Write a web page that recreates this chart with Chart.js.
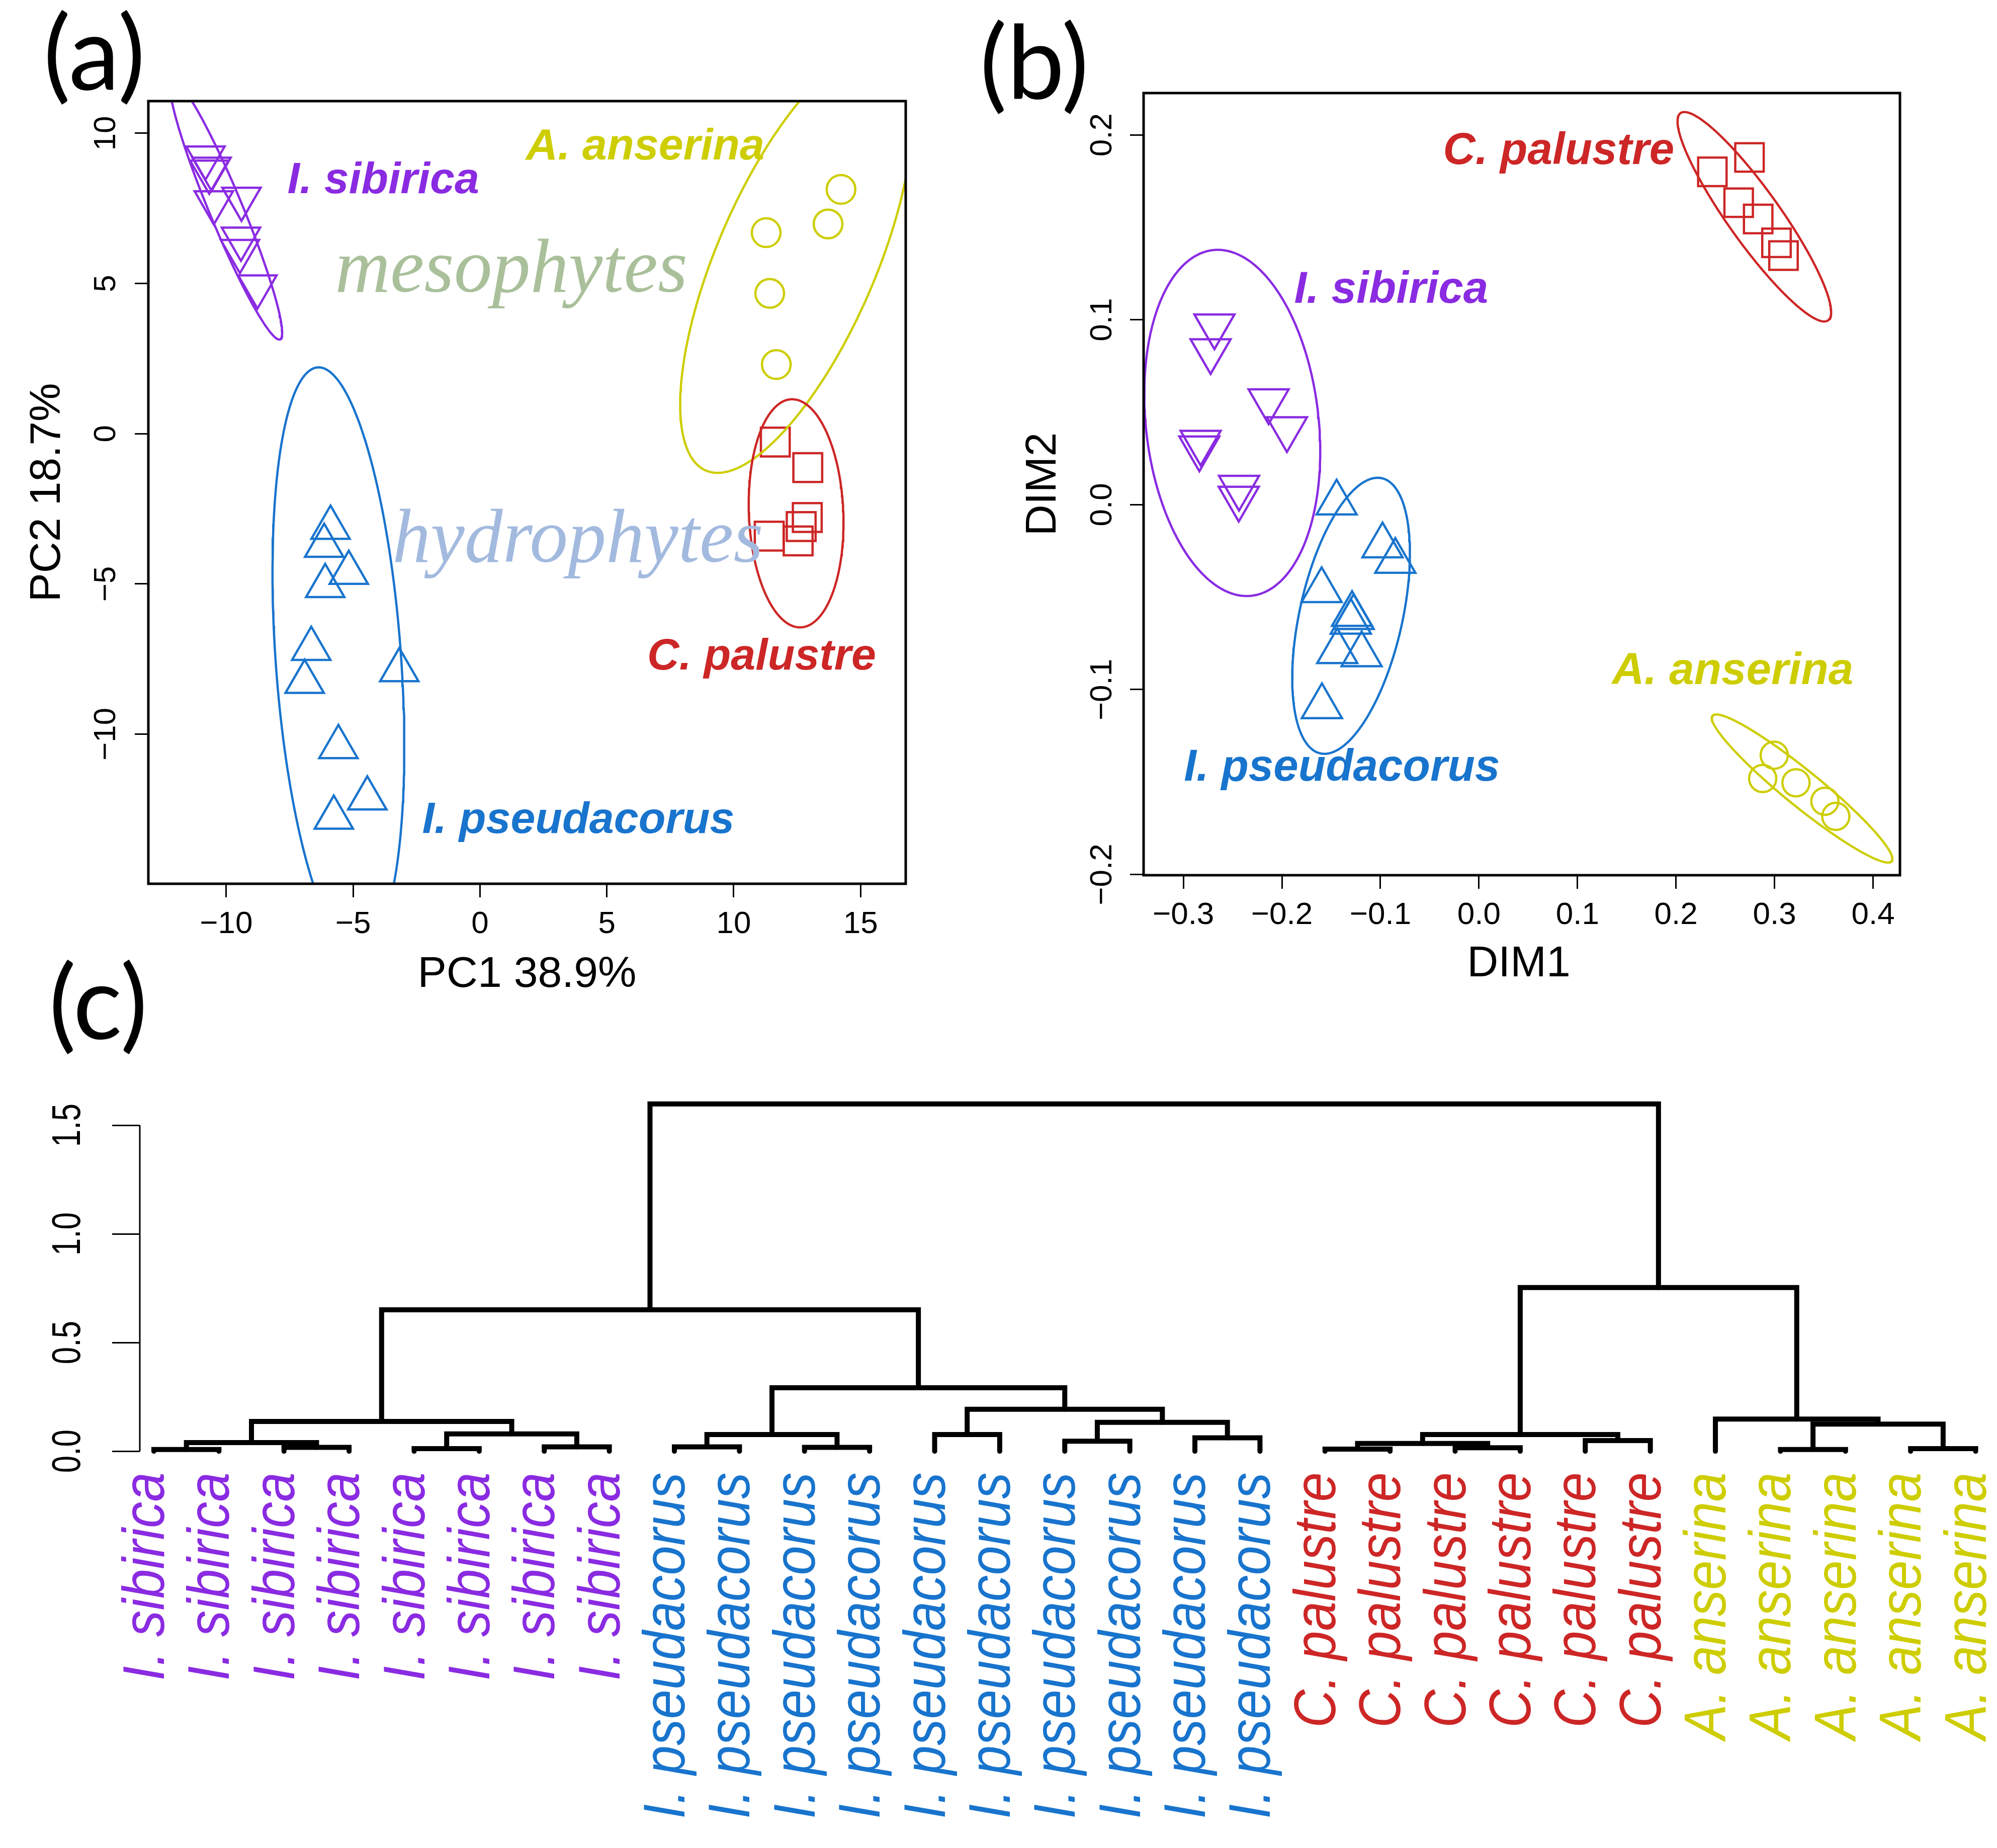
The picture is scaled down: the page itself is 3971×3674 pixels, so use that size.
<!DOCTYPE html>
<html>
<head>
<meta charset="utf-8">
<script src="https://cdn.jsdelivr.net/npm/chart.js@4.4.1/dist/chart.umd.min.js"></script>
<style>
html,body{margin:0;padding:0;background:#ffffff;}
body{width:3971px;height:3674px;position:relative;overflow:hidden;}
canvas{position:absolute;}
</style>
</head>
<body>
<canvas id="ca" width="1950" height="1990" style="left:0px;top:0px;width:1950px;height:1990px"></canvas>
<canvas id="cb" width="2021" height="1990" style="left:1950px;top:0px;width:2021px;height:1990px"></canvas>
<canvas id="cc" width="3971" height="1794" style="left:0px;top:1880px;width:3971px;height:1794px"></canvas>
<script>
// ================= DATA =================
// Panel (a): PCA scores
const pcaSibiricaX   = [-10.82, -10.58, -10.67, -10.49, -9.40, -9.42, -9.46, -8.77];
const pcaSibiricaY   = [9.19, 8.82, 8.72, 7.70, 7.82, 6.49, 6.08, 4.90];
const pcaPseudX      = [-5.89, -6.14, -5.17, -6.10, -6.65, -6.91, -3.18, -5.58, -4.44, -5.76];
const pcaPseudY      = [-3.13, -3.73, -4.63, -5.07, -7.16, -8.26, -7.87, -10.43, -12.14, -12.78];
const pcaPalustreX   = [11.64, 12.92, 12.90, 12.66, 11.40, 12.54];
const pcaPalustreY   = [-0.28, -1.13, -2.79, -3.09, -3.41, -3.57];
const pcaAnserinaX   = [14.23, 13.72, 11.28, 11.42, 11.68];
const pcaAnserinaY   = [8.13, 6.98, 6.69, 4.67, 2.30];
// confidence ellipses (a): centre, semi-axis vector u, semi-axis vector v
const pcaEllSibirica = {c: [-10.01, 7.47], u: [2.129, -4.330], v: [0.606, 0.213]};
const pcaEllPseud    = {c: [-5.58, -7.52], u: [0.815, -9.727], v: [2.466, 0.147]};
const pcaEllPalustre = {c: [12.46, -2.65], u: [0.186, -3.796], v: [1.859, 0.065]};
const pcaEllAnserina = {c: [12.47, 5.75],  u: [3.568, 6.976],  v: [2.870, -1.048]};
const ticksAX = [-10, -5, 0, 5, 10, 15];
const tickLabelsAX = ['\u221210', '\u22125', '0', '5', '10', '15'];
const ticksAY = [-10, -5, 0, 5, 10];
const tickLabelsAY = ['\u221210', '\u22125', '0', '5', '10'];

// Panel (b): MDS scores
const mdsSibiricaX = [-0.2685, -0.2724, -0.2135, -0.1949, -0.2825, -0.2838, -0.2435, -0.2438];
const mdsSibiricaY = [0.0966, 0.0832, 0.0561, 0.0410, 0.0337, 0.0306, 0.0093, 0.0034];
const mdsPseudX    = [-0.1445, -0.0979, -0.0849, -0.1597, -0.1288, -0.1272, -0.1301, -0.1438, -0.1191, -0.1594];
const mdsPseudY    = [0.0010, -0.0222, -0.0306, -0.0464, -0.0593, -0.0610, -0.0635, -0.0794, -0.0811, -0.1092];
const mdsPalustreX = [0.2369, 0.2746, 0.2636, 0.2834, 0.3020, 0.3091];
const mdsPalustreY = [0.1800, 0.1878, 0.1633, 0.1545, 0.1416, 0.1347];
const mdsAnserinaX = [0.2997, 0.2880, 0.3218, 0.3511, 0.3622];
const mdsAnserinaY = [-0.1355, -0.1481, -0.1504, -0.1604, -0.1686];
const mdsEllSibirica = {c: [-0.2504, 0.0442],  u: [0.01955, -0.09347], v: [0.08714, 0.00517]};
const mdsEllPseud    = {c: [-0.1298, -0.0601], u: [-0.03124, -0.0744], v: [0.0509, -0.00607]};
const mdsEllPalustre = {c: [0.2795, 0.1557],   u: [0.07489, -0.05604], v: [0.02164, 0.00822]};
const mdsEllAnserina = {c: [0.328, -0.1535],   u: [-0.0909, 0.03935],  v: [0.01154, 0.00746]};
const ticksBX = [-0.3, -0.2, -0.1, 0.0, 0.1, 0.2, 0.3, 0.4];
const tickLabelsBX = ['\u22120.3', '\u22120.2', '\u22120.1', '0.0', '0.1', '0.2', '0.3', '0.4'];
const ticksBY = [-0.2, -0.1, 0.0, 0.1, 0.2];
const tickLabelsBY = ['\u22120.2', '\u22120.1', '0.0', '0.1', '0.2'];

// Panel (c): dendrogram (R hclust style merges: negative = leaf, positive = earlier merge)
const leafLabels = [
  'I. sibirica','I. sibirica','I. sibirica','I. sibirica','I. sibirica','I. sibirica','I. sibirica','I. sibirica',
  'I. pseudacorus','I. pseudacorus','I. pseudacorus','I. pseudacorus','I. pseudacorus',
  'I. pseudacorus','I. pseudacorus','I. pseudacorus','I. pseudacorus','I. pseudacorus',
  'C. palustre','C. palustre','C. palustre','C. palustre','C. palustre','C. palustre',
  'A. anserina','A. anserina','A. anserina','A. anserina','A. anserina'];
const leafGroup = [0,0,0,0,0,0,0,0, 1,1,1,1,1,1,1,1,1,1, 2,2,2,2,2,2, 3,3,3,3,3];
const mergeA = [-1,-3,1,-5,-7,4,3,-9,-11,8,-13,-15,-17,12,11,10,7,-19,-21,18,-23,20,-26,-28,23,-25,22,17];
const mergeB = [-2,-4,2,-6,-8,5,6,-10,-12,9,-14,-16,-18,13,14,15,16,-20,-22,19,-24,21,-27,-29,24,25,26,27];
const mergeHeight = [0.008,0.018,0.040,0.012,0.020,0.080,0.137,0.020,0.018,0.077,0.077,0.046,0.062,0.133,
                     0.193,0.292,0.651,0.010,0.016,0.036,0.049,0.077,0.008,0.012,0.125,0.148,0.753,1.598];
const ticksCY = [0.0, 0.5, 1.0, 1.5];
const tickLabelsCY = ['0.0', '0.5', '1.0', '1.5'];

// ================= STYLE =================
const COLS = ['#8A2BE2', '#1874CD', '#CD2626', '#CDCD00'];
const TICK_FONT = "62px 'Liberation Sans', Arial, sans-serif";
const TITLE_FONT = "86px 'Liberation Sans', Arial, sans-serif";
const SPEC_FONT = "italic bold 88px 'Liberation Sans', Arial, sans-serif";
const LEAF_FONT = "italic 105px 'Liberation Sans', Arial, sans-serif";
const HAB_FONT = "italic 152px 'Liberation Serif', 'Times New Roman', serif";
const LETTER_FONT = "204px Lato, 'Open Sans', sans-serif";

function txt(ctx, s, x, y, o) {
  ctx.save();
  ctx.translate(x, y);
  if (o.rot) ctx.rotate(o.rot);
  if (o.sy) ctx.scale(1, o.sy);
  ctx.font = o.font;
  ctx.fillStyle = o.color || '#000';
  ctx.textAlign = o.align || 'center';
  ctx.textBaseline = o.base || 'middle';
  ctx.fillText(s, 0, 0);
  ctx.restore();
}
function zip(xs, ys) { return xs.map((x, i) => ({x: x, y: ys[i]})); }
function ellipsePts(e) {
  const pts = [];
  for (let i = 0; i <= 240; i++) {
    const t = i / 240 * 2 * Math.PI;
    pts.push({x: e.c[0] + Math.cos(t) * e.u[0] + Math.sin(t) * e.v[0],
              y: e.c[1] + Math.cos(t) * e.u[1] + Math.sin(t) * e.v[1]});
  }
  return pts;
}
function ellDS(e, col) {
  return {data: ellipsePts(e), showLine: true, pointRadius: 0, borderColor: col, borderWidth: 4.5, fill: false, clip: 0};
}
function ptDS(xs, ys, col, style, r, rot) {
  return {data: zip(xs, ys), showLine: false, pointStyle: style, pointRadius: r, pointRotation: rot || 0,
          pointBorderWidth: 4.5, pointBorderColor: col, pointBackgroundColor: 'rgba(0,0,0,0)'};
}
function scaleOpts(min, max, ticks, fitProp, fitVal, tl) {
  return {
    type: 'linear', min: min, max: max,
    afterBuildTicks: s => { s.ticks = ticks.map(v => ({value: v})); },
    afterFit: s => { s[fitProp] = fitVal; },
    grid: {display: true, drawOnChartArea: false, drawTicks: true, tickLength: tl, tickWidth: 3, tickColor: '#000'},
    border: {display: false},
    ticks: {display: false}
  };
}
const baseOpts = {responsive: false, animation: false, devicePixelRatio: 1, events: [],
  plugins: {legend: {display: false}, tooltip: {enabled: false}, title: {display: false}}};

// ================= PANEL (a) =================
const pluginA = {id: 'pa', afterDraw(chart) {
  const ctx = chart.ctx, ca = chart.chartArea, xs = chart.scales.x, ys = chart.scales.y;
  ctx.save();
  ctx.lineWidth = 5; ctx.strokeStyle = '#000';
  ctx.strokeRect(ca.left, ca.top, ca.right - ca.left, ca.bottom - ca.top);
  ticksAX.forEach((v, i) => txt(ctx, tickLabelsAX[i], xs.getPixelForValue(v), ca.bottom + 81, {font: TICK_FONT}));
  ticksAY.forEach((v, i) => txt(ctx, tickLabelsAY[i], ca.left - 83, ys.getPixelForValue(v), {font: TICK_FONT, rot: -Math.PI / 2}));
  txt(ctx, 'PC1 38.9%', (ca.left + ca.right) / 2, ca.bottom + 181, {font: TITLE_FONT});
  txt(ctx, 'PC2 18.7%', ca.left - 200, (ca.top + ca.bottom) / 2, {font: TITLE_FONT, rot: -Math.PI / 2});
  const P = (x, y) => [xs.getPixelForValue(x), ys.getPixelForValue(y)];
  let p;
  p = P(-5.71, 4.72); txt(ctx, 'mesophytes', p[0], p[1], {font: HAB_FONT, color: '#A9C09A', align: 'left', base: 'alphabetic'});
  p = P(-3.45, -4.27); txt(ctx, 'hydrophytes', p[0], p[1], {font: HAB_FONT, color: '#A3BADF', align: 'left', base: 'alphabetic'});
  p = P(-3.81, 8.41); txt(ctx, 'I. sibirica', p[0], p[1], {font: SPEC_FONT, color: COLS[0]});
  p = P(6.51, 9.54); txt(ctx, 'A. anserina', p[0], p[1], {font: SPEC_FONT, color: COLS[3]});
  p = P(11.10, -7.44); txt(ctx, 'C. palustre', p[0], p[1], {font: SPEC_FONT, color: COLS[2]});
  p = P(3.875, -12.88); txt(ctx, 'I. pseudacorus', p[0], p[1], {font: SPEC_FONT, color: COLS[1]});
  txt(ctx, '(a)', 86, 178, {font: LETTER_FONT, align: 'left', base: 'alphabetic'});
  ctx.restore();
}};
new Chart(document.getElementById('ca'), {
  type: 'scatter',
  data: {datasets: [
    ellDS(pcaEllSibirica, COLS[0]), ellDS(pcaEllPseud, COLS[1]), ellDS(pcaEllPalustre, COLS[2]), ellDS(pcaEllAnserina, COLS[3]),
    ptDS(pcaSibiricaX, pcaSibiricaY, COLS[0], 'triangle', 44, 180),
    ptDS(pcaPseudX, pcaPseudY, COLS[1], 'triangle', 44, 0),
    ptDS(pcaPalustreX, pcaPalustreY, COLS[2], 'rect', 40.5, 0),
    ptDS(pcaAnserinaX, pcaAnserinaY, COLS[3], 'circle', 28.5, 0)
  ]},
  options: Object.assign({}, baseOpts, {
    layout: {padding: {left: 0, top: 201, right: 149, bottom: 0}},
    scales: {
      x: Object.assign(scaleOpts(-13.07, 16.78, ticksAX, 'height', 233, 27), {position: 'bottom'}),
      y: Object.assign(scaleOpts(-14.98, 11.07, ticksAY, 'width', 295, 27), {position: 'left'})
    }
  }),
  plugins: [pluginA]
});

// ================= PANEL (b) =================
const pluginB = {id: 'pb', afterDraw(chart) {
  const ctx = chart.ctx, ca = chart.chartArea, xs = chart.scales.x, ys = chart.scales.y;
  ctx.save();
  ctx.lineWidth = 5; ctx.strokeStyle = '#000';
  ctx.strokeRect(ca.left, ca.top, ca.right - ca.left, ca.bottom - ca.top);
  ticksBX.forEach((v, i) => txt(ctx, tickLabelsBX[i], xs.getPixelForValue(v), ca.bottom + 80, {font: TICK_FONT}));
  ticksBY.forEach((v, i) => txt(ctx, tickLabelsBY[i], ca.left - 81, ys.getPixelForValue(v), {font: TICK_FONT, rot: -Math.PI / 2}));
  txt(ctx, 'DIM1', (ca.left + ca.right) / 2 - 6, ca.bottom + 177, {font: TITLE_FONT});
  txt(ctx, 'DIM2', ca.left - 199, (ca.top + ca.bottom) / 2, {font: TITLE_FONT, rot: -Math.PI / 2});
  const P = (x, y) => [xs.getPixelForValue(x), ys.getPixelForValue(y)];
  const F = SPEC_FONT.replace('88px', '89px');
  let p;
  p = P(0.0809, 0.1908); txt(ctx, 'C. palustre', p[0], p[1], {font: F, color: COLS[2]});
  p = P(-0.0891, 0.1159); txt(ctx, 'I. sibirica', p[0], p[1], {font: F, color: COLS[0]});
  p = P(-0.1391, -0.1426); txt(ctx, 'I. pseudacorus', p[0], p[1], {font: F, color: COLS[1]});
  p = P(0.2575, -0.0903); txt(ctx, 'A. anserina', p[0], p[1], {font: F, color: COLS[3]});
  txt(ctx, '(b)', -2, 197, {font: LETTER_FONT, align: 'left', base: 'alphabetic'});
  ctx.restore();
}};
new Chart(document.getElementById('cb'), {
  type: 'scatter',
  data: {datasets: [
    ellDS(mdsEllSibirica, COLS[0]), ellDS(mdsEllPseud, COLS[1]), ellDS(mdsEllPalustre, COLS[2]), ellDS(mdsEllAnserina, COLS[3]),
    ptDS(mdsSibiricaX, mdsSibiricaY, COLS[0], 'triangle', 46, 180),
    ptDS(mdsPseudX, mdsPseudY, COLS[1], 'triangle', 46, 0),
    ptDS(mdsPalustreX, mdsPalustreY, COLS[2], 'rect', 40, 0),
    ptDS(mdsAnserinaX, mdsAnserinaY, COLS[3], 'circle', 27, 0)
  ]},
  options: Object.assign({}, baseOpts, {
    layout: {padding: {left: 0, top: 185, right: 193, bottom: 0}},
    scales: {
      x: Object.assign(scaleOpts(-0.3404, 0.4273, ticksBX, 'height', 250, 27), {position: 'bottom'}),
      y: Object.assign(scaleOpts(-0.2004, 0.2226, ticksBY, 'width', 324, 27), {position: 'left'})
    }
  }),
  plugins: [pluginB]
});

// ================= PANEL (c) =================
const nodeX = [], nodeH = [], dendroSegs = [];
function childPos(c) { return c < 0 ? [-c, 0] : [nodeX[c - 1], nodeH[c - 1]]; }
mergeA.forEach((a, i) => {
  const A = childPos(a), B = childPos(mergeB[i]), h = mergeHeight[i];
  nodeX[i] = (A[0] + B[0]) / 2; nodeH[i] = h;
  dendroSegs.push([{x: A[0], y: A[1]}, {x: A[0], y: h}, {x: B[0], y: h}, {x: B[0], y: B[1]}]);
});
const pluginC = {id: 'pc', afterDraw(chart) {
  const ctx = chart.ctx, ca = chart.chartArea, xs = chart.scales.x, ys = chart.scales.y;
  ctx.save();
  ctx.lineWidth = 3; ctx.strokeStyle = '#000'; ctx.lineCap = 'butt';
  ctx.beginPath();
  ctx.moveTo(ca.left, ys.getPixelForValue(ticksCY[0]));
  ctx.lineTo(ca.left, ys.getPixelForValue(ticksCY[ticksCY.length - 1]));
  ctx.stroke();
  ticksCY.forEach((v, i) => txt(ctx, tickLabelsCY[i], ca.left - 141, ys.getPixelForValue(v), {font: TICK_FONT, rot: -Math.PI / 2, sy: 1.3}));
  const y0 = ys.getPixelForValue(0) + 42;
  leafLabels.forEach((s, i) => {
    txt(ctx, s, xs.getPixelForValue(i + 1) + 20, y0, {font: LEAF_FONT, color: COLS[leafGroup[i]], rot: -Math.PI / 2, align: 'right', base: 'alphabetic', sy: 1.12});
  });
  txt(ctx, '(c)', 97, 186, {font: LETTER_FONT, align: 'left', base: 'alphabetic'});
  ctx.restore();
}};
new Chart(document.getElementById('cc'), {
  type: 'scatter',
  data: {datasets: dendroSegs.map(seg => ({data: seg, showLine: true, pointRadius: 0, borderColor: '#000',
    borderWidth: 10, borderCapStyle: 'round', borderJoinStyle: 'miter', fill: false, clip: false}))},
  options: Object.assign({}, baseOpts, {
    layout: {padding: {left: 0, top: 270, right: 11, bottom: 0}},
    scales: {
      x: {type: 'linear', min: 0.7836, max: 29.243, position: 'bottom',
          afterFit: s => { s.height = 774; }, grid: {display: false}, border: {display: false}, ticks: {display: false}},
      y: Object.assign(scaleOpts(-0.03425, 1.7016, ticksCY, 'width', 278, 55), {position: 'left'})
    }
  }),
  plugins: [pluginC]
});
</script>
</body>
</html>
